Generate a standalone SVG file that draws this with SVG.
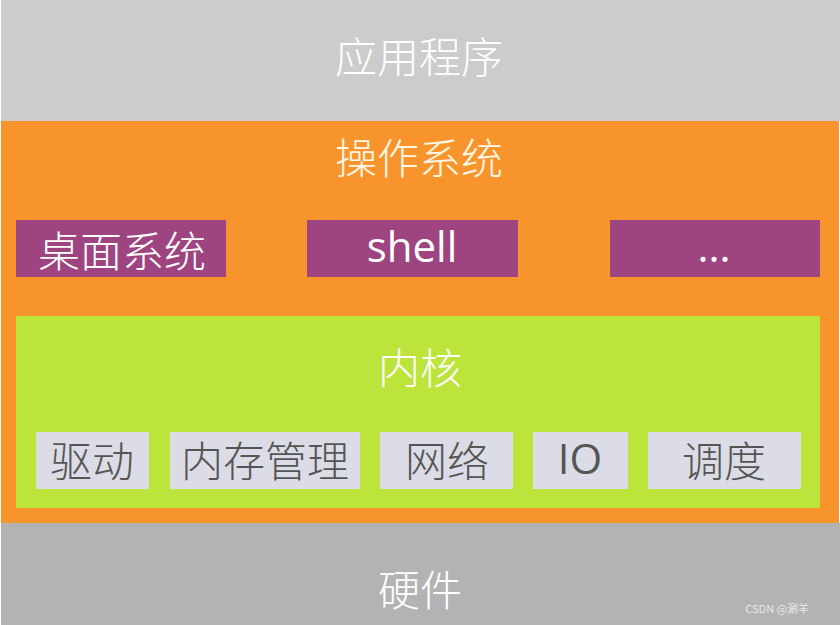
<svg xmlns="http://www.w3.org/2000/svg" width="840" height="625" viewBox="0 0 840 625">
<style>
text{font-family:"Noto Sans CJK SC","Noto Sans",sans-serif;font-weight:300;text-anchor:middle}
.w{fill:#ffffff;font-size:42px}
.wc{fill:#fff7e6;font-size:42px}
.d{fill:#555555;font-size:42px}
.lat{font-family:"Open Sans","Noto Sans",sans-serif;font-weight:400}
.purple{fill:#9e4480}
.item{fill:#dcdce6}
</style>
<rect x="0" y="0" width="840" height="625" fill="#ffffff"/>
<g id="app">
<rect x="1" y="0" width="839" height="121" fill="#cccccc"/>
<text class="w" x="419" y="73">应用程序</text>
</g>
<g id="os">
<rect x="1" y="121" width="838" height="402" fill="#f7952c"/>
<text class="wc" x="419" y="174">操作系统</text>
</g>
<g id="desktop">
<rect class="purple" x="16" y="220" width="210" height="57"/>
<text class="w" x="122" y="267">桌面系统</text>
</g>
<g id="shell">
<rect class="purple" x="307" y="220" width="211" height="57"/>
<text class="w lat" x="412" y="262" font-size="38">shell</text>
</g>
<g id="more">
<rect class="purple" x="610" y="220" width="210" height="57"/>
<text class="w lat" x="714" y="262" font-size="30">...</text>
</g>
<g id="kernel">
<rect x="16" y="316" width="804" height="192" fill="#bde43b"/>
<text class="w" x="420" y="384">内核</text>
</g>
<g id="driver">
<rect class="item" x="36" y="432" width="113" height="57"/>
<text class="d" x="92" y="477">驱动</text>
</g>
<g id="memory">
<rect class="item" x="170" y="432" width="190" height="57"/>
<text class="d" x="265" y="477">内存管理</text>
</g>
<g id="network">
<rect class="item" x="380" y="432" width="133" height="57"/>
<text class="d" x="447" y="477">网络</text>
</g>
<g id="io">
<rect class="item" x="533" y="432" width="95" height="57"/>
<text class="d lat" x="580" y="474" font-size="38">IO</text>
</g>
<g id="schedule">
<rect class="item" x="648" y="432" width="153" height="57"/>
<text class="d" x="724" y="477">调度</text>
</g>
<g id="hardware">
<rect x="1" y="523" width="839" height="102" fill="#b3b3b3"/>
<text class="w" x="420" y="606">硬件</text>
</g>
<g id="connectors"></g>
<text x="809" y="613" font-size="11" fill="#e8e8e8" style="text-anchor:end;font-weight:400">CSDN @涮羊</text>
</svg>
